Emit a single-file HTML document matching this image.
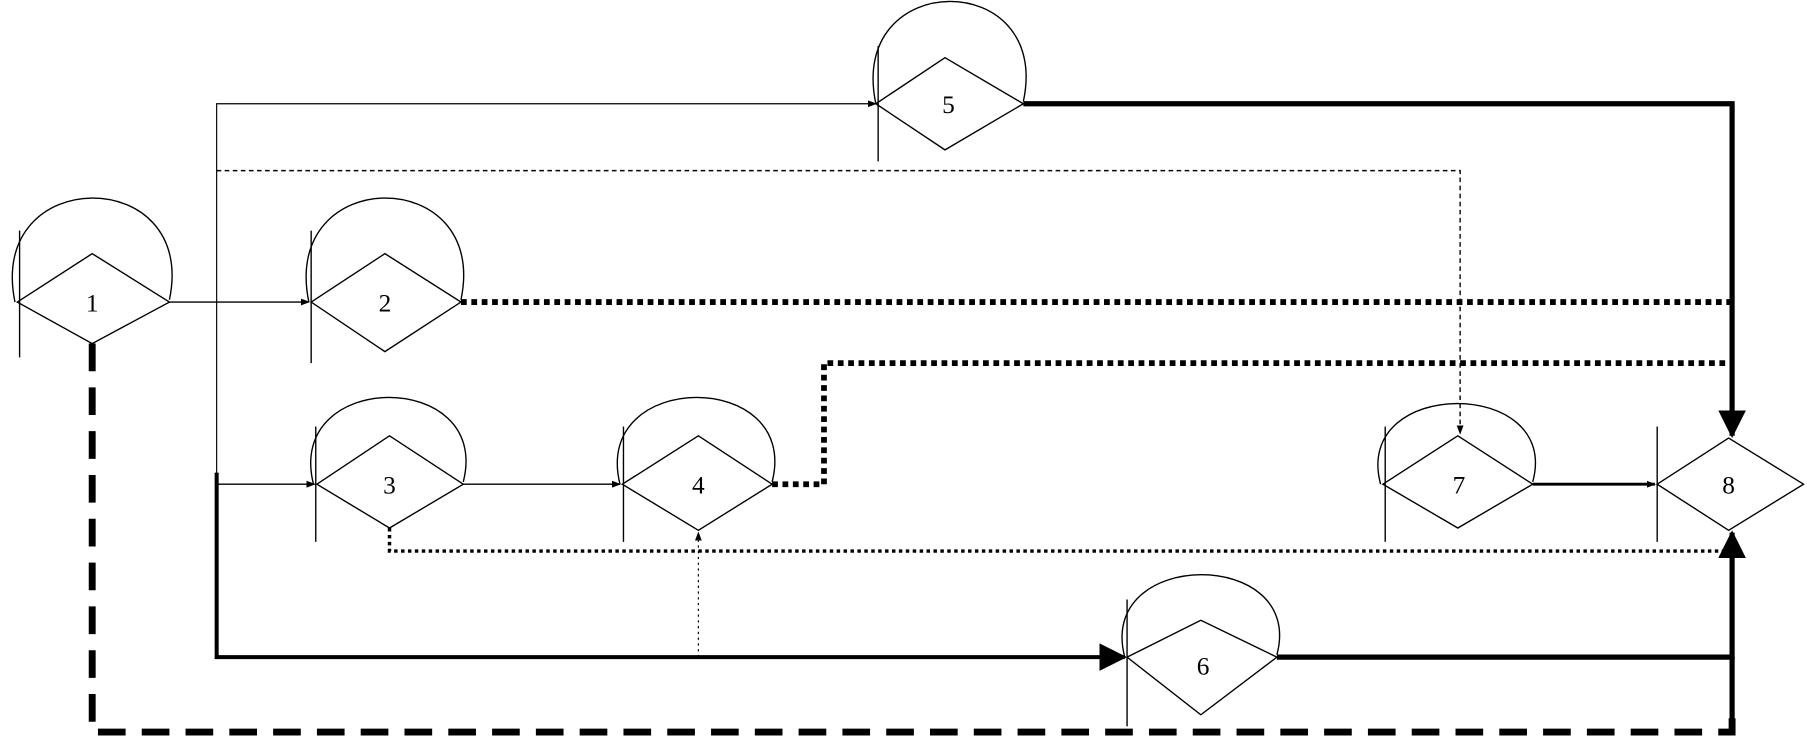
<!DOCTYPE html>
<html><head><meta charset="utf-8"><style>html,body{margin:0;padding:0;background:#fff}svg{display:block}</style></head>
<body>
<svg width="1807" height="739" viewBox="0 0 1568 641" preserveAspectRatio="none" xmlns="http://www.w3.org/2000/svg" font-family="Liberation Serif, serif">
<defs>
<marker id="s" markerWidth="8" markerHeight="8" refX="7" refY="4" orient="auto" markerUnits="userSpaceOnUse"><path d="M0,1 L8,4 L0,7z" fill="#000"/></marker>
<marker id="b" markerWidth="24" markerHeight="30" refX="22" refY="12" orient="auto" markerUnits="userSpaceOnUse"><path d="M0,0 L24,12 L0,24z" fill="#000"/></marker>
</defs>
<g fill="none" stroke="#000">
<path d="M147,262 H268" stroke-width="1.2" marker-end="url(#s)"/>
<path d="M188,570 V90 H760" stroke-width="1" marker-end="url(#s)"/>
<path d="M188,420 H273" stroke-width="1.2" marker-end="url(#s)"/>
<path d="M402,420 H538" stroke-width="1.2" marker-end="url(#s)"/>
<path d="M1330,420 H1436" stroke-width="2.5" marker-end="url(#s)"/>
<path d="M188,410 V570 H976" stroke-width="3.5" marker-end="url(#b)"/>
<path d="M188,148 H1267 V376" stroke-width="1.2" stroke-dasharray="4,3" marker-end="url(#s)"/>
<path d="M400,262 H1505" stroke-width="5" stroke-dasharray="5,4"/>
<path d="M670,420 H715 V315 H1505" stroke-width="5" stroke-dasharray="5,4"/>
<path d="M338,458 V478 H1498" stroke-width="3" stroke-dasharray="3,3"/>
<path d="M606,570 V462" stroke-width="1" stroke-dasharray="2,3" marker-end="url(#s)"/>
<path d="M888,90 H1503 V378" stroke-width="4.5" marker-end="url(#b)"/>
<path d="M1108,570 H1503 V462" stroke-width="4.5" marker-end="url(#b)"/>
<path d="M1503,570 V626" stroke-width="4.5"/>
<path d="M80,298 V635 H1503 V622" stroke-width="6" stroke-dasharray="24,14"/>
<g stroke-width="1.2">
<path d="M15,262 L80,220 L147,262 L80,298z"/><path d="M17,200 V310"/><path d="M13,262 C-12,142 172,142 147,260"/>
<path d="M270,262 L334,220 L400,262 L334,305z"/><path d="M270,200 V315"/><path d="M268,262 C243,142 425,142 400,260"/>
<path d="M760,90 L820,50 L888,90 L820,130z"/><path d="M762,40 V140"/><path d="M760,90 C735,-28 913,-28 888,88"/>
<path d="M275,420 L338,378 L402,420 L338,458z"/><path d="M274,370 V470"/><path d="M272,420 C247,320 427,320 402,418"/>
<path d="M540,420 L606,378 L670,420 L606,460z"/><path d="M541,370 V470"/><path d="M538,420 C513,320 695,320 670,418"/>
<path d="M1200,420 L1265,378 L1330,420 L1265,458z"/><path d="M1202,370 V470"/><path d="M1198,420 C1173,327 1355,327 1330,418"/>
<path d="M1438,420 L1500,380 L1565,420 L1500,460z"/><path d="M1438,370 V470"/>
<path d="M978,570 L1042,538 L1108,570 L1042,620z"/><path d="M978,520 V630"/><path d="M976,570 C951,475 1133,475 1108,568"/>
</g>
</g>
<g font-size="22" text-anchor="middle" fill="#000">
<text x="80" y="270">1</text><text x="334" y="270">2</text><text x="338" y="428">3</text><text x="606" y="428">4</text>
<text x="823" y="98">5</text><text x="1044" y="585">6</text><text x="1266" y="428">7</text><text x="1500" y="428">8</text>
</g>
</svg>
</body></html>
